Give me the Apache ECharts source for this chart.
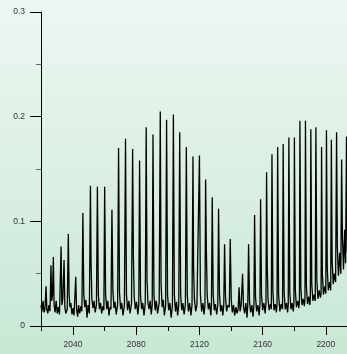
<!DOCTYPE html>
<html>
<head>
<meta charset="utf-8">
<script src="https://cdn.jsdelivr.net/npm/echarts@6/dist/echarts.min.js"></script>
<style>
  html, body { margin: 0; padding: 0; }
  #chart { width: 347px; height: 354px; }
</style>
</head>
<body>
<div id="chart"></div>
<script>
// tick labels
const xMajorTicks = [2040, 2080, 2120, 2160, 2200];
const xMinorTicks = [2020, 2060, 2100, 2140, 2180];

// spectrum as [x, y]
const firstBand = [
  [2019.7,0.020],[2020.3,0.014],[2021.0,0.024],[2021.6,0.013],[2022.2,0.016],[2022.9,0.038],[2023.4,0.016],[2024.0,0.012],
  [2024.7,0.020],[2025.4,0.014],[2026.0,0.058],[2026.5,0.024],[2027.0,0.030],[2027.5,0.066],[2028.0,0.020],[2028.6,0.013],
  [2029.3,0.024],[2030.0,0.012],[2030.7,0.018],[2031.4,0.011],[2032.4,0.076],[2032.9,0.020],[2033.5,0.026],[2034.3,0.063],
  [2034.8,0.018],[2035.4,0.012],[2036.3,0.016],[2037.0,0.088],[2037.5,0.030],[2038.0,0.018],[2038.6,0.022],[2039.3,0.011],
  [2040.0,0.017],[2040.6,0.010],[2041.7,0.047],[2042.2,0.016],[2042.9,0.009],[2043.5,0.020],[2044.2,0.012],[2045.0,0.019],
  [2045.6,0.014],[2046.2,0.108],[2046.8,0.030],[2047.4,0.018],[2048.1,0.025],[2048.8,0.008],[2049.5,0.020],[2050.3,0.012],
  [2051.0,0.134],[2051.4,0.060],[2051.9,0.026],[2052.6,0.017],[2053.3,0.024],[2054.0,0.013],[2054.8,0.020],[2055.4,0.133],
  [2056.0,0.030],[2056.7,0.016],[2057.4,0.022],[2058.1,0.012],[2058.9,0.019],[2059.5,0.015],[2060.0,0.133],[2060.6,0.030],
  [2061.3,0.016],[2062.0,0.024],[2062.7,0.010],[2063.4,0.018],[2064.0,0.016],[2064.6,0.111],[2065.2,0.034],[2065.9,0.017],
  [2066.6,0.023],[2067.3,0.011],[2068.2,0.020],[2068.8,0.170],[2069.4,0.032],[2070.1,0.016],[2070.8,0.022],[2071.6,0.010],
  [2072.5,0.020],[2073.2,0.179],[2073.8,0.030],[2074.5,0.015],[2075.3,0.024],[2076.1,0.012],[2077.0,0.022],[2077.7,0.169],
  [2078.2,0.065],[2078.7,0.028],[2079.4,0.016],[2080.2,0.023],[2081.0,0.011],[2081.6,0.020],[2082.1,0.158],[2082.7,0.030],
  [2083.4,0.016],[2084.1,0.022],[2084.9,0.010],[2085.7,0.022],[2086.3,0.190],[2086.8,0.044],[2087.4,0.022],[2088.1,0.016],
  [2088.8,0.024],[2089.5,0.011],[2090.1,0.020],[2090.6,0.183],[2091.2,0.030],[2092.0,0.015],[2092.7,0.024],[2093.5,0.012],
  [2094.5,0.022],[2095.2,0.205],[2095.7,0.040],[2096.4,0.018],[2097.1,0.025],[2097.8,0.010],[2098.6,0.020],[2099.2,0.197],
  [2099.8,0.030],[2100.5,0.015],[2101.3,0.022],[2102.1,0.008],[2102.9,0.020],[2103.5,0.202],[2104.1,0.030],[2104.8,0.014],
  [2105.5,0.023],[2106.2,0.010],[2106.9,0.020],[2107.5,0.185],[2108.1,0.030],[2108.8,0.015],[2109.5,0.022],[2110.3,0.011],
  [2111.1,0.021],[2111.7,0.171],[2112.3,0.030],[2113.0,0.014],[2113.8,0.022],[2114.6,0.010],[2115.3,0.020],[2115.9,0.162],
  [2116.3,0.055],[2116.8,0.026],[2117.6,0.014],[2118.4,0.020],[2119.4,0.020],[2120.0,0.163],[2120.6,0.030],[2121.4,0.014],
  [2122.2,0.022],[2122.9,0.011],[2123.5,0.020],[2123.9,0.140],[2124.4,0.071],[2124.9,0.030],[2125.6,0.016],[2126.4,0.022],
  [2127.2,0.010],[2127.6,0.020],[2128.1,0.123],[2128.7,0.030],[2129.4,0.015],[2130.1,0.021],[2130.9,0.011],[2131.6,0.020],
  [2132.1,0.112],[2132.7,0.030],[2133.4,0.014],[2134.1,0.020],[2134.8,0.010],[2135.4,0.020],[2135.9,0.078],[2136.5,0.028],
  [2137.2,0.014],[2138.0,0.020],[2138.9,0.018],[2139.5,0.083],[2140.1,0.026]
];

const secondBand = [
  [2140.8,0.013],[2141.6,0.020],[2142.3,0.010],[2143.1,0.018],[2143.8,0.012],[2144.5,0.016],[2145.1,0.037],[2145.7,0.014],
  [2146.4,0.020],[2147.3,0.050],[2147.9,0.018],[2148.6,0.012],[2149.4,0.022],[2150.1,0.008],[2150.6,0.020],[2151.1,0.078],
  [2151.7,0.024],[2152.4,0.013],[2153.2,0.020],[2153.9,0.009],[2154.5,0.020],[2154.9,0.106],[2155.5,0.028],[2156.2,0.014],
  [2157.0,0.020],[2157.8,0.010],[2158.3,0.020],[2158.7,0.121],[2159.3,0.030],[2160.0,0.015],[2160.8,0.022],[2161.6,0.012],
  [2162.1,0.022],[2162.5,0.147],[2162.9,0.058],[2163.4,0.026],[2164.1,0.015],[2164.9,0.021],[2165.5,0.016],[2165.9,0.164],
  [2166.5,0.032],[2167.2,0.015],[2168.0,0.021],[2168.7,0.013],[2169.1,0.020],[2169.5,0.171],[2170.1,0.030],[2170.9,0.014],
  [2171.7,0.021],[2172.6,0.016],[2173.0,0.174],[2173.6,0.032],[2174.3,0.016],[2175.1,0.022],[2175.8,0.013],[2176.2,0.020],
  [2176.6,0.180],[2177.2,0.032],[2177.9,0.016],[2178.7,0.022],[2179.4,0.014],[2179.8,0.022],[2180.1,0.180],[2180.7,0.034],
  [2181.4,0.018],[2182.2,0.024],[2182.9,0.017],[2183.3,0.024],[2183.6,0.196],[2184.2,0.036],[2184.9,0.020],[2185.7,0.026],
  [2186.4,0.019],[2186.8,0.026],[2187.1,0.196],[2187.7,0.038],[2188.4,0.021],[2189.2,0.028],[2189.9,0.020],[2190.2,0.028],
  [2190.5,0.188],[2191.1,0.040],[2191.8,0.024],[2192.6,0.030],[2193.3,0.024],[2193.7,0.190],[2194.3,0.044],[2195.0,0.026],
  [2195.8,0.034],[2196.6,0.027],[2197.0,0.032],[2197.3,0.171],[2197.8,0.050],[2198.5,0.030],[2199.3,0.038],[2200.0,0.031],
  [2200.4,0.187],[2200.9,0.055],[2201.6,0.034],[2202.4,0.042],[2203.1,0.034],[2203.5,0.178],[2204.0,0.062],[2204.7,0.040],
  [2205.4,0.050],[2206.2,0.042],[2206.8,0.185],[2207.3,0.075],[2208.0,0.048],[2208.8,0.070],[2209.5,0.050],[2210.0,0.159],
  [2210.5,0.085],[2211.2,0.054],[2211.9,0.092],[2212.5,0.060],[2213.1,0.181],[2213.6,0.070]
];

const font = 'Liberation Sans, Arial, sans-serif';
const ink = '#000';

let chart = echarts.init(document.getElementById('chart'));

let option = {
  animation: false,
  backgroundColor: {
    type: 'linear', x: 0, y: 0, x2: 0, y2: 1,
    colorStops: [
      { offset: 0, color: '#eef6f2' },
      { offset: 1, color: '#c7e8d5' }
    ]
  },
  grid: { left: 41, right: 0, top: 12, bottom: 28 },
  xAxis: [
    {
      type: 'value',
      min: 2019.7,
      max: 2213.4,
      axisLine: { lineStyle: { color: ink, width: 1 } },
      axisTick: { customValues: xMajorTicks, length: 9, lineStyle: { color: ink } },
      axisLabel: {
        customValues: xMajorTicks, margin: 14, fontSize: 8.5, color: '#333', fontFamily: font,
        formatter: v => String(v)
      },
      splitLine: { show: false }
    },
    {
      // short ticks between the labelled ones
      type: 'value',
      position: 'bottom',
      min: 2019.7,
      max: 2213.4,
      axisLine: { show: false },
      axisTick: { customValues: xMinorTicks, length: 5, lineStyle: { color: ink } },
      axisLabel: { show: false },
      splitLine: { show: false }
    }
  ],
  yAxis: {
    type: 'value',
    min: 0,
    max: 0.3,
    interval: 0.1,
    axisLine: { show: true, lineStyle: { color: ink, width: 1 } },
    axisTick: { show: true, length: 11, lineStyle: { color: ink } },
    minorTick: { show: true, splitNumber: 2, length: 5, lineStyle: { color: '#666' } },
    axisLabel: { margin: 16, fontSize: 8.5, color: '#333', fontFamily: font },
    splitLine: { show: false }
  },
  series: [{
    type: 'line',
    xAxisIndex: 0,
    data: firstBand.concat(secondBand),
    showSymbol: false,
    lineStyle: { color: ink, width: 1.3 },
    clip: true
  }]
};

chart.setOption(option);
</script>
</body>
</html>
